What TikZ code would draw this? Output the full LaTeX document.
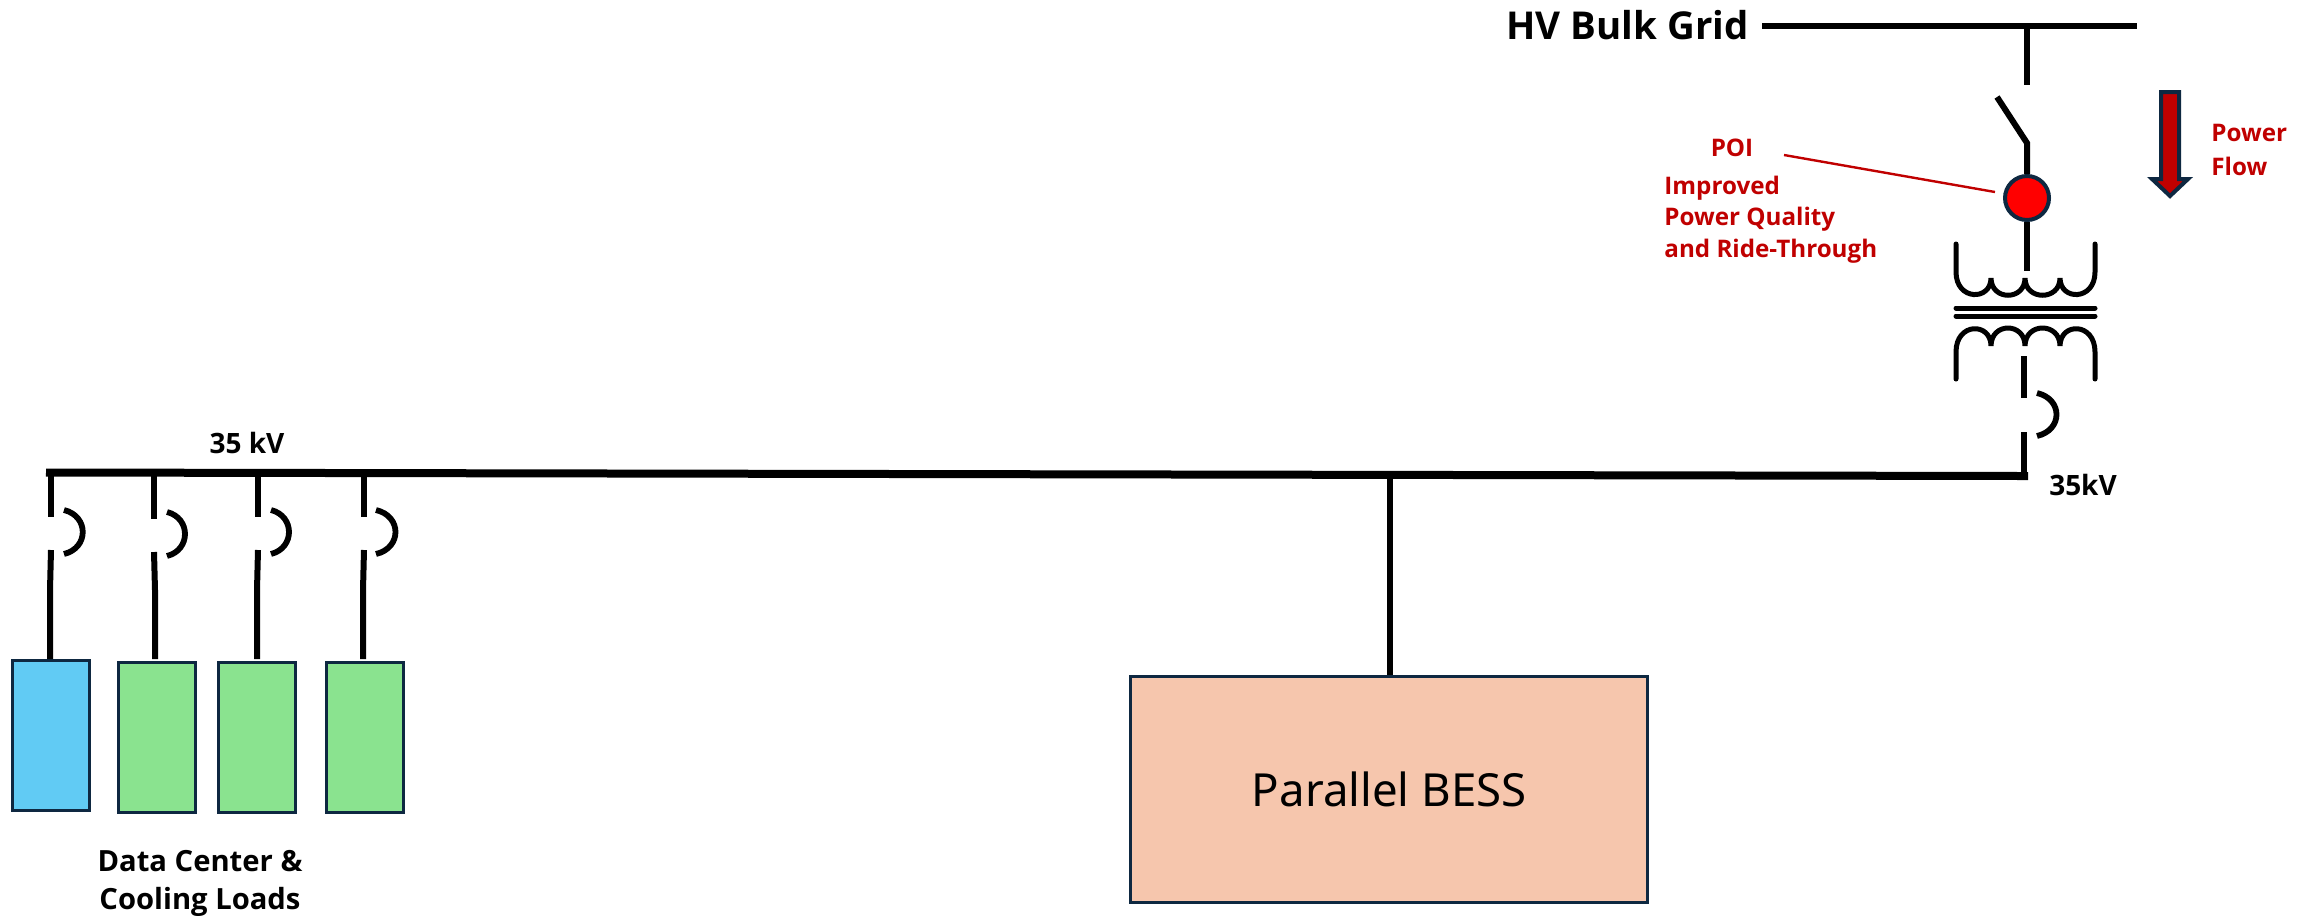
\documentclass[tikz,border=0pt]{standalone}
\usepackage{fontspec}
\setmainfont{Noto Sans}
\newfontfamily\lblfont{Open Sans}
\definecolor{edgeblue}{HTML}{0E2841}
\definecolor{redtxt}{HTML}{C00000}
\definecolor{bluefill}{HTML}{61CBF4}
\definecolor{greenfill}{HTML}{8AE38F}
\definecolor{bessfill}{HTML}{F6C6AD}
\tikzset{
  x=0.5pt,y=-0.5pt,
  busline/.style={line width=4pt,black},
  wire/.style={line width=3pt,black},
  coil/.style={line width=2.5pt,black,line cap=round},
  arcline/.style={line width=2.9pt,black},
  loadbox/.style={draw=edgeblue,line width=1.7pt,inner sep=0pt,anchor=north west},
  redlabel/.style={text=redtxt,font=\lblfont\bfseries\fontsize{12.1}{14}\selectfont,inner sep=0pt,anchor=west},
  blacklabel/.style={text=black,font=\lblfont\bfseries\fontsize{14.6}{19}\selectfont,inner sep=0pt,align=center},
  kvlabel/.style={text=black,font=\lblfont\bfseries\fontsize{14}{17}\selectfont,inner sep=0pt}
}
\begin{document}
\begin{tikzpicture}
\useasboundingbox (0,0) rectangle (2318,917);
% loads
\node[loadbox,fill=bluefill,minimum width=38.5pt,minimum height=75pt] (l1) at (10.5,658.5) {};
\node[loadbox,fill=greenfill,minimum width=38.5pt,minimum height=75pt] (l2) at (117,660.5) {};
\node[loadbox,fill=greenfill,minimum width=38.5pt,minimum height=75pt] (l3) at (217,660.5) {};
\node[loadbox,fill=greenfill,minimum width=38.5pt,minimum height=75pt] (l4) at (325,660.5) {};
\node[loadbox,fill=bessfill,minimum width=258.5pt,minimum height=113pt] (bess) at (1129,675) {};
\node[font=\fontsize{22.8}{27}\selectfont,inner sep=0pt] (besst) at (bess.center) {Parallel BESS};
% coordinates
\coordinate (busL) at (50,472.5);
\coordinate (busR) at (2024,476);
\coordinate (tb) at (1390,474);
% main bus
\draw[busline,line cap=rect] (busL) -- (busR);
% feeders
\foreach \n/\xa/\xb/\ya/\yb in {l1/51/50/517/550, l2/154/155/519/552, l3/258/257/517/550, l4/364/363/517/550}{
  \draw[wire] (\xa,473) -- (\xa,\ya);
  \draw[wire] (\xa,\yb) -- (\xb,590) -- (\xb,659);
}
\draw[arcline] (64,510) .. controls (89,516) and (89,548) .. (64,554);
\draw[arcline] (167,512) .. controls (191,518) and (191,550) .. (167,556);
\draw[arcline] (271,510) .. controls (295,516) and (295,548) .. (271,554);
\draw[arcline] (376,510) .. controls (402,516) and (402,548) .. (376,554);
\draw[wire] (tb) -- (bess.north -| tb);
% HV bus
\node[font=\lblfont\bfseries\fontsize{19.2}{23}\selectfont,inner sep=0pt,anchor=east] (hv) at (1749,25) {HV Bulk Grid};
\coordinate (hvL) at (1762,26);
\coordinate (hvR) at (2137,26);
\coordinate (hvT) at (2027,26);
\coordinate (sw1) at (2027,85);
\coordinate (bl1) at (1997,97);
\coordinate (bl2) at (2027,143);
\draw[line width=3.2pt] (hvL) -- (hvR);
\draw[wire] (hvT) -- (sw1);
% POI
\node[draw=edgeblue,fill=red,line width=2pt,circle,minimum size=22pt,inner sep=0pt] (poi) at (2027,198) {};
\coordinate (tr1) at (2027,271);
\draw[wire,line join=miter] (bl1) -- (bl2) -- (poi.north);
\draw[wire] (poi.south) -- (tr1);
% transformer upper coil
\draw[coil] (1956,244) -- (1956,272) .. controls (1956,301) and (1991,301) .. (1991,278)
  .. controls (1991,301) and (2025,301) .. (2025,278)
  .. controls (2025,301) and (2060,301) .. (2060,278)
  .. controls (2060,301) and (2095,301) .. (2095,272) -- (2095,244);
\draw[coil] (1956,308) -- (2095,308);
\draw[coil] (1956,316) -- (2095,316);
\draw[coil] (1956,379) -- (1956,352) .. controls (1956,322) and (1991,322) .. (1991,346)
  .. controls (1991,322) and (2025,322) .. (2025,346)
  .. controls (2025,322) and (2060,322) .. (2060,346)
  .. controls (2060,322) and (2095,322) .. (2095,352) -- (2095,379);
% secondary breaker
\coordinate (br1) at (2024,356);
\coordinate (br2) at (2024,398);
\coordinate (br3) at (2024,432);
\draw[wire] (br1) -- (br2);
\draw[wire] (br3) -- (busR);
\draw[arcline] (2037,393) .. controls (2063,399) and (2063,430) .. (2037,436);
% POI callout
\coordinate (cl) at (1784,155);
\coordinate (cr) at (1995,192);
\draw[redtxt,line width=1.2pt] (cl) -- (cr);
% power flow arrow
\draw[edgeblue,fill=redtxt,line width=2pt,line join=miter] (2161,92) -- (2179,92) -- (2179,179) -- (2188,179) -- (2170,196) -- (2152,179) -- (2161,179) -- cycle;
% labels
\node[redlabel,anchor=center] (poit) at (1732,148) {POI};
\node[redlabel] (i1) at (1664,188) {Improved};
\node[redlabel] (i2) at (1664,219) {Power Quality};
\node[redlabel] (i3) at (1664,251) {and Ride-Through};
\node[redlabel] (p1) at (2211,133) {Power};
\node[redlabel] (p2) at (2211,166) {Flow};
\node[kvlabel] (k1) at (247,443) {35 kV};
\node[kvlabel] (k2) at (2083,485) {35kV};
\node[blacklabel] (dc) at (200,883) {Data Center \&\\Cooling Loads};
\end{tikzpicture}
\end{document}
